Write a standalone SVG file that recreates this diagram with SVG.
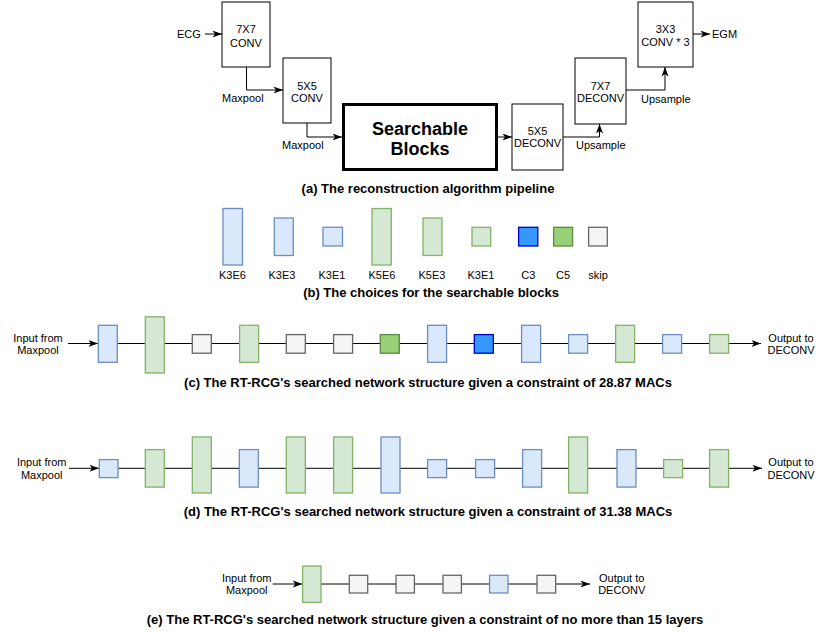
<svg xmlns="http://www.w3.org/2000/svg" width="831" height="633" viewBox="0 0 831 633">
<defs>
<marker id="arr" markerUnits="userSpaceOnUse" markerWidth="10" markerHeight="8" refX="9.5" refY="4" orient="auto">
<path d="M0,0.5 L9.5,4 L0,7.5 L2.5,4 Z" fill="#000"/>
</marker>
<style>
.box{fill:#fff;stroke:#000;stroke-width:1}
.sb{fill:#fff;stroke:#000;stroke-width:3}
.t{font-family:"Liberation Sans",Arial,Helvetica,sans-serif;font-size:11px;fill:#000;text-anchor:middle}
.ts{font-family:"Liberation Sans",Arial,Helvetica,sans-serif;font-size:11px;fill:#000;text-anchor:start}
.big{font-family:"Liberation Sans",Arial,Helvetica,sans-serif;font-size:18px;font-weight:bold;fill:#000;text-anchor:middle}
.cap{font-family:"Liberation Sans",Arial,Helvetica,sans-serif;font-size:13px;font-weight:bold;fill:#000;text-anchor:middle}
.ln{fill:none;stroke:#000;stroke-width:1}
.ar{fill:none;stroke:#000;stroke-width:1;marker-end:url(#arr)}
.b{fill:#dae8fc;stroke:#6c8ebf;stroke-width:1.3}
.g{fill:#d5e8d4;stroke:#82b366;stroke-width:1.3}
.s{fill:#f5f5f5;stroke:#666666;stroke-width:1.3}
.c3{fill:#3399ff;stroke:#0000cc;stroke-width:1.3}
.c5{fill:#97d077;stroke:#5a8a3f;stroke-width:1.3}
</style>
</defs>
<rect width="831" height="633" fill="#fff"/>

<g id="connectors">
<!-- (a) pipeline -->
<line class="ar" x1="205" y1="34" x2="222" y2="34"/>
<polyline class="ar" points="246.5,67 246.5,90 283,90"/>
<polyline class="ar" points="307,123 307,137 342,137"/>
<line class="ar" x1="498" y1="137" x2="512" y2="137"/>
<polyline class="ar" points="563,137 599.5,137 599.5,124"/>
<polyline class="ar" points="626,90 665,90 665,67"/>
<line class="ar" x1="693" y1="34" x2="710" y2="34"/>
<!-- (c) -->
<line class="ar" x1="68" y1="343.5" x2="98" y2="343.5"/>
<line class="ln" x1="117" y1="343.5" x2="710" y2="343.5"/>
<line class="ar" x1="728.8" y1="343.5" x2="761" y2="343.5"/>
<!-- (d) -->
<line class="ar" x1="69" y1="468.3" x2="99" y2="468.3"/>
<line class="ln" x1="118" y1="468.3" x2="710" y2="468.3"/>
<line class="ar" x1="728.8" y1="468.3" x2="762" y2="468.3"/>
<!-- (e) -->
<line class="ar" x1="272.7" y1="584" x2="302.3" y2="584"/>
<line class="ln" x1="321" y1="584" x2="537" y2="584"/>
<line class="ar" x1="556" y1="584" x2="590" y2="584"/>
</g>

<!-- (a) nodes -->
<g id="ecg"><text class="ts" x="177" y="38">ECG</text></g>
<g id="conv7"><rect class="box" x="222" y="2" width="48" height="65"/><text class="t" x="246" y="33">7X7</text><text class="t" x="246" y="47">CONV</text></g>
<g id="maxpool1"><text class="ts" x="222" y="102">Maxpool</text></g>
<g id="conv5"><rect class="box" x="283" y="58" width="48" height="65"/><text class="t" x="307" y="90">5X5</text><text class="t" x="307" y="102">CONV</text></g>
<g id="maxpool2"><text class="ts" x="282" y="149">Maxpool</text></g>
<g id="searchable"><rect class="sb" x="343.5" y="104.5" width="153" height="65"/><text class="big" x="420" y="135">Searchable</text><text class="big" x="420" y="155">Blocks</text></g>
<g id="deconv5"><rect class="box" x="512" y="104" width="51" height="66"/><text class="t" x="537.5" y="134.5">5X5</text><text class="t" x="537.5" y="147">DECONV</text></g>
<g id="upsample1"><text class="ts" x="576" y="149">Upsample</text></g>
<g id="deconv7"><rect class="box" x="575" y="58" width="51" height="66"/><text class="t" x="600.5" y="90">7X7</text><text class="t" x="600.5" y="102">DECONV</text></g>
<g id="upsample2"><text class="ts" x="641" y="103">Upsample</text></g>
<g id="conv3"><rect class="box" x="638" y="2" width="55" height="65"/><text class="t" x="665.5" y="33">3X3</text><text class="t" x="665.5" y="46">CONV * 3</text></g>
<g id="egm"><text class="ts" x="712" y="38">EGM</text></g>
<text class="cap" x="428" y="193">(a) The reconstruction algorithm pipeline</text>

<!-- (b) choices -->
<g id="b-k3e6"><rect class="b" x="223" y="208.5" width="19.5" height="56.5"/><text class="t" x="232.5" y="279">K3E6</text></g>
<g id="b-k3e3"><rect class="b" x="274.3" y="218" width="19" height="37.5"/><text class="t" x="282" y="279">K3E3</text></g>
<g id="b-k3e1"><rect class="b" x="323" y="227.3" width="19.5" height="18.7"/><text class="t" x="332" y="279">K3E1</text></g>
<g id="b-k5e6"><rect class="g" x="372" y="208.5" width="19.3" height="56.5"/><text class="t" x="382" y="279">K5E6</text></g>
<g id="b-k5e3"><rect class="g" x="423" y="218" width="19" height="37.5"/><text class="t" x="432" y="279">K5E3</text></g>
<g id="b-k3e1g"><rect class="g" x="472" y="227.3" width="18.7" height="18.7"/><text class="t" x="481" y="279">K3E1</text></g>
<g id="b-c3"><rect class="c3" x="518.6" y="227.3" width="19.2" height="18.7"/><text class="t" x="528.3" y="279">C3</text></g>
<g id="b-c5"><rect class="c5" x="553.6" y="227.3" width="19" height="18.7"/><text class="t" x="563" y="279">C5</text></g>
<g id="b-skip"><rect class="s" x="588.6" y="227.3" width="18.7" height="18.7"/><text class="t" x="598" y="279">skip</text></g>
<text class="cap" x="431" y="297">(b) The choices for the searchable blocks</text>

<!-- (c) row -->
<g id="c-in"><text class="t" x="38" y="341.5">Input from</text><text class="t" x="38" y="354">Maxpool</text></g>
<g id="c1"><rect class="b" x="98.3" y="325.3" width="19" height="37"/></g>
<g id="c2"><rect class="g" x="145.3" y="316.8" width="19" height="56.2"/></g>
<g id="c3"><rect class="s" x="192.3" y="334.6" width="19" height="18.6"/></g>
<g id="c4"><rect class="g" x="239.6" y="325.3" width="19" height="37"/></g>
<g id="c5"><rect class="s" x="286.3" y="334.6" width="19" height="18.6"/></g>
<g id="c6"><rect class="s" x="333.6" y="334.6" width="19" height="18.6"/></g>
<g id="c7"><rect class="c5" x="380.3" y="334.6" width="19" height="18.6"/></g>
<g id="c8"><rect class="b" x="427.6" y="325.3" width="19" height="37"/></g>
<g id="c9"><rect class="c3" x="474.3" y="334.6" width="19" height="18.6"/></g>
<g id="c10"><rect class="b" x="521.6" y="325.3" width="19" height="37"/></g>
<g id="c11"><rect class="b" x="568.6" y="334.6" width="19" height="18.6"/></g>
<g id="c12"><rect class="g" x="615.6" y="325.3" width="19" height="37"/></g>
<g id="c13"><rect class="b" x="662.6" y="334.6" width="19" height="18.6"/></g>
<g id="c14"><rect class="g" x="709.6" y="334.6" width="19" height="18.6"/></g>
<g id="c-out"><text class="t" x="791" y="341.5">Output to</text><text class="t" x="791" y="354">DECONV</text></g>
<text class="cap" x="428" y="387">(c) The RT-RCG's searched network structure given a constraint of 28.87 MACs</text>

<!-- (d) row -->
<g id="d-in"><text class="t" x="41.7" y="465.5">Input from</text><text class="t" x="41.7" y="478.5">Maxpool</text></g>
<g id="d1"><rect class="b" x="99.3" y="459.6" width="18.7" height="18"/></g>
<g id="d2"><rect class="g" x="145.3" y="449.6" width="19" height="37.5"/></g>
<g id="d3"><rect class="g" x="192.3" y="437" width="19" height="56"/></g>
<g id="d4"><rect class="b" x="239.3" y="449.6" width="19" height="37.5"/></g>
<g id="d5"><rect class="g" x="286.3" y="437" width="19" height="56"/></g>
<g id="d6"><rect class="g" x="333.6" y="437" width="19" height="56"/></g>
<g id="d7"><rect class="b" x="381" y="437" width="19" height="56"/></g>
<g id="d8"><rect class="b" x="427.6" y="459.6" width="19" height="18"/></g>
<g id="d9"><rect class="b" x="475.6" y="459.6" width="19" height="18"/></g>
<g id="d10"><rect class="b" x="522.6" y="449.6" width="19" height="37.5"/></g>
<g id="d11"><rect class="g" x="568.6" y="437" width="19" height="56"/></g>
<g id="d12"><rect class="b" x="617" y="449.6" width="19" height="37.5"/></g>
<g id="d13"><rect class="g" x="663.6" y="459.6" width="19" height="18"/></g>
<g id="d14"><rect class="g" x="709.6" y="449.6" width="19" height="37.5"/></g>
<g id="d-out"><text class="t" x="791" y="465.5">Output to</text><text class="t" x="791" y="478.5">DECONV</text></g>
<text class="cap" x="428" y="516">(d) The RT-RCG's searched network structure given a constraint of 31.38 MACs</text>

<!-- (e) row -->
<g id="e-in"><text class="t" x="246.7" y="581.5">Input from</text><text class="t" x="246.7" y="594">Maxpool</text></g>
<g id="e1"><rect class="g" x="302.6" y="566" width="18.4" height="36.4"/></g>
<g id="e2"><rect class="s" x="349.3" y="575.3" width="18.4" height="17.7"/></g>
<g id="e3"><rect class="s" x="396" y="575.3" width="18.4" height="17.7"/></g>
<g id="e4"><rect class="s" x="443" y="575.3" width="18.4" height="17.7"/></g>
<g id="e5"><rect class="b" x="489.6" y="575.3" width="18.4" height="17.7"/></g>
<g id="e6"><rect class="s" x="537" y="575.3" width="18.7" height="17.7"/></g>
<g id="e-out"><text class="t" x="621.7" y="581.5">Output to</text><text class="t" x="621.7" y="594">DECONV</text></g>
<text class="cap" x="425" y="624">(e) The RT-RCG's searched network structure given a constraint of no more than 15 layers</text>
</svg>
